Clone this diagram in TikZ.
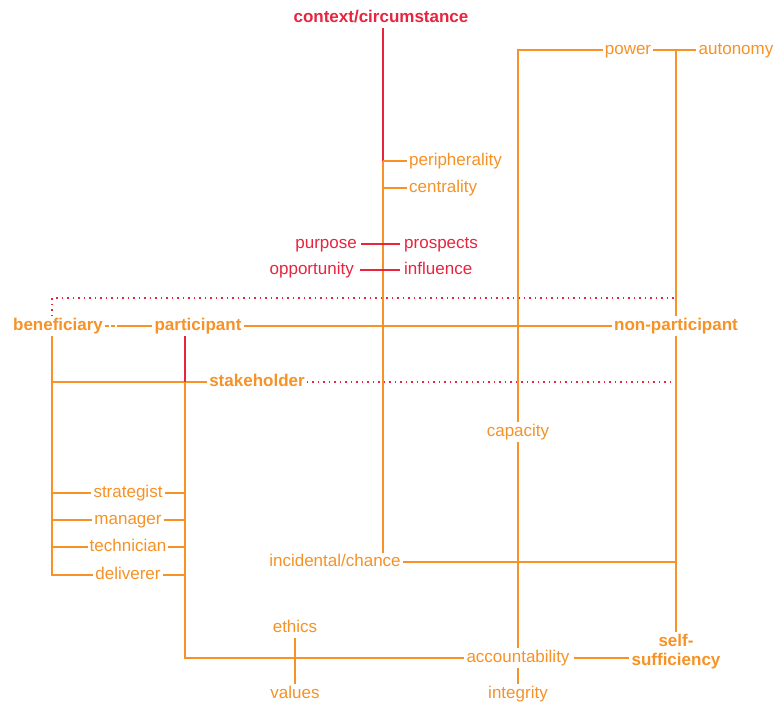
\documentclass[tikz,border=0pt]{standalone}
\usepackage{fontspec}
\setmainfont{Liberation Sans}
\definecolor{lineorange}{RGB}{246,146,38}
\definecolor{linered}{RGB}{232,36,62}
\begin{document}
\begin{tikzpicture}[x=1pt,y=-1pt,
  lbl/.style={font=\fontsize{17}{20}\selectfont, text=lineorange, inner sep=2pt,
    fill=white, text height=12pt, text depth=3.6pt},
  key/.style={lbl, font=\fontsize{17}{20}\selectfont\bfseries},
  redlbl/.style={lbl, text=linered},
  oline/.style={draw=lineorange, line width=1.4pt},
  rline/.style={draw=linered, line width=1.4pt},
  dotline/.style={draw=linered, line width=1.5pt, dash pattern=on 1.5pt off 4pt},
]
\fill[white] (0,0) rectangle (774,704);
\useasboundingbox (0,0) rectangle (774,704);

% labels
\node[key, text=linered] (ctx) at (381,18) {context/circumstance};
\node[lbl, anchor=west] (peri) at (407,161) {peripherality};
\node[lbl, anchor=west] (cent) at (407,188) {centrality};
\node[redlbl, anchor=east] (purpose) at (359,244) {purpose};
\node[redlbl, anchor=west] (prospects) at (402,244) {prospects};
\node[redlbl, anchor=east] (opportunity) at (356,270) {opportunity};
\node[redlbl, anchor=west] (influence) at (402,270) {influence};
\node[lbl] (power) at (628,50) {power};
\node[lbl] (autonomy) at (736,50) {autonomy};
\node[key] (beneficiary) at (58,326) {beneficiary};
\node[key] (participant) at (198,326) {participant};
\node[key] (nonpart) at (676,326) {non-participant};
\node[key] (stakeholder) at (257,382) {stakeholder};
\node[lbl] (capacity) at (518,432) {capacity};
\node[lbl] (strategist) at (128,493) {strategist};
\node[lbl] (manager) at (128,520) {manager};
\node[lbl] (technician) at (128,547) {technician};
\node[lbl] (deliverer) at (128,575) {deliverer};
\node[lbl] (incidental) at (335,562) {incidental/chance};
\node[lbl] (ethics) at (295,628) {ethics};
\node[lbl] (values) at (295,694) {values};
\node[lbl] (accountability) at (518,658) {accountability};
\node[lbl] (integrity) at (518,694) {integrity};
\node[key, align=center, text height=, text depth=, font=\fontsize{17}{19}\selectfont\bfseries] (selfsuff) at (676,652) {self-\\sufficiency};

% junction points
\coordinate (t1) at (383,161);
\coordinate (t2) at (383,188);
\coordinate (tend) at (383,553);
\coordinate (d1) at (52,298);
\coordinate (d2) at (676,298);
\coordinate (bp) at (118,326);
\coordinate (bend) at (52,575);
\coordinate (pv) at (185,658);
\coordinate (cv) at (518,50);
\coordinate (av) at (676,50);

% context trunk
\draw[rline] (ctx.south -| t1) -- (t1);
\draw[oline] (t1) -- (tend);
\draw[oline] (t1) -- (peri.west);
\draw[oline] (t2) -- (cent.west);
\draw[rline, shorten <=2pt, shorten >=2pt] (purpose) -- (prospects);
\draw[rline, shorten <=4pt, shorten >=2pt] (opportunity) -- (influence);

% dotted boundary
\draw[dotline] (beneficiary.north -| d1) -- (d1) -- (d2);
\draw[dotline] (stakeholder.east) -- (stakeholder.east -| d2);

% participation row
\draw[oline, dash pattern=on 4pt off 2pt] (beneficiary.east) -- (bp);
\draw[oline] (bp) -- (participant.west);
\draw[oline] (participant.east) -- (nonpart.west);

% beneficiary trunk and roles
\draw[oline] (beneficiary.south -| bend) -- (bend) -- (deliverer.west);
\draw[oline] (stakeholder.west -| bend) -- (stakeholder.west);
\foreach \r in {strategist,manager,technician,deliverer}{
  \draw[oline] (\r.west -| bend) -- (\r.west);
  \draw[oline] (\r.east) -- (\r.east -| pv);
}

% participant trunk
\draw[rline] (participant.south -| pv) -- (stakeholder.west -| pv);
\draw[oline] (stakeholder.west -| pv) -- (pv) -- (accountability.west);
\draw[oline] (ethics) -- (values);

% incidental branch
\draw[oline] (incidental.east) -- (incidental.east -| d2);

% capacity trunk
\draw[oline] (power.west) -- (cv) -- (capacity.north);
\draw[oline] (capacity.south) -- (accountability.north);
\draw[oline] (accountability.south) -- (integrity.north);

% autonomy trunk
\draw[oline] (power.east) -- (autonomy.west);
\draw[oline] (av) -- (nonpart.north -| av);
\draw[oline] (nonpart.south -| av) -- (selfsuff.north);
\draw[oline, shorten <=2pt] (accountability.east) -- (accountability.east -| selfsuff.west);
\end{tikzpicture}
\end{document}
